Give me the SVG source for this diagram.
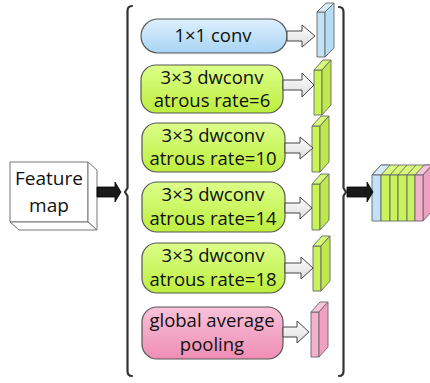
<svg xmlns="http://www.w3.org/2000/svg" width="430" height="383" viewBox="0 0 430 383">
<style>
text{font-family:"Open Sans","Noto Sans","DejaVu Sans",sans-serif;font-size:18.5px;fill:#111;text-anchor:middle}
.pill{stroke:#555;stroke-width:1.2}
.harrow{fill:url(#gw);stroke:#444;stroke-width:1}
.barrow{fill:#1a1a1a;stroke:#000;stroke-width:0.8}
.blk{stroke:#666;stroke-width:0.9;stroke-linejoin:round}
.brk{fill:none;stroke:#333;stroke-width:2.2;stroke-linecap:round;stroke-linejoin:round}
</style>
<defs>
<linearGradient id="gb" x1="0" y1="0" x2="0" y2="1"><stop offset="0" stop-color="#def0ff"/><stop offset="1" stop-color="#a8d4f4"/></linearGradient>
<linearGradient id="gg" x1="0" y1="0" x2="0" y2="1"><stop offset="0" stop-color="#dcff8a"/><stop offset="1" stop-color="#bdee3e"/></linearGradient>
<linearGradient id="gp" x1="0" y1="0" x2="0" y2="1"><stop offset="0" stop-color="#f8c2d9"/><stop offset="1" stop-color="#ef8db4"/></linearGradient>
<linearGradient id="gw" x1="0" y1="0" x2="0" y2="1"><stop offset="0" stop-color="#ffffff"/><stop offset="1" stop-color="#dcdcdc"/></linearGradient>
</defs>

<g id="feature-map">
<polygon points="10,162 88,162 88,222 10,222" fill="#fff" stroke="#777" stroke-width="1"/>
<polygon points="88,162 97,170 97,230 88,222" fill="#fff" stroke="#777" stroke-width="1"/>
<polygon points="10,222 88,222 97,230 19,230" fill="#fff" stroke="#777" stroke-width="1"/>
<text x="49" y="185" style="font-size:19px">Feature</text>
<text x="49" y="212" style="font-size:19px">map</text>
</g>

<g id="brackets">
<path class="brk" d="M132,6 Q127.5,6 127.5,11 L127.5,188 L125,192 L127.5,196 L127.5,371 Q127.5,376 132,376"/>
<path class="brk" d="M339,7 Q343.5,7 343.5,12 L343.5,188 L346,192 L343.5,196 L343.5,371 Q343.5,376 339,376"/>
</g>

<g id="conv1x1">
<rect class="pill" x="141" y="19" width="146" height="34" rx="17" fill="url(#gb)"/>
<text x="213" y="42">1×1 conv</text>
</g>
<g id="dw6">
<rect class="pill" x="141" y="65" width="142" height="48" rx="15" fill="url(#gg)"/>
<text x="212" y="84">3×3 dwconv</text>
<text x="212" y="107">atrous rate=6</text>
</g>
<g id="dw10">
<rect class="pill" x="142" y="123" width="143" height="49" rx="15" fill="url(#gg)"/>
<text x="213" y="142">3×3 dwconv</text>
<text x="213" y="165">atrous rate=10</text>
</g>
<g id="dw14">
<rect class="pill" x="142" y="182" width="143" height="50" rx="15" fill="url(#gg)"/>
<text x="213" y="201">3×3 dwconv</text>
<text x="213" y="225">atrous rate=14</text>
</g>
<g id="dw18">
<rect class="pill" x="142" y="243" width="143" height="50" rx="15" fill="url(#gg)"/>
<text x="213" y="262">3×3 dwconv</text>
<text x="213" y="286">atrous rate=18</text>
</g>
<g id="pool">
<rect class="pill" x="142" y="307" width="141" height="52" rx="15" fill="url(#gp)"/>
<text x="212" y="327">global average</text>
<text x="212" y="351">pooling</text>
</g>

<g id="feat-blue">
<polygon class="blk" points="317,12 325,12 325,57 317,57" fill="#c2e2f8"/>
<polygon class="blk" points="317,12 326,3 334,3 325,12" fill="#d4ecfb"/>
<polygon class="blk" points="325,12 334,3 334,48 325,57" fill="#b6dbf4"/>
</g>
<g id="feat-g6">
<polygon class="blk" points="314,70 322,70 322,115 314,115" fill="#c9f35a"/>
<polygon class="blk" points="314,70 323,60 331,60 322,70" fill="#d8fa7a"/>
<polygon class="blk" points="322,70 331,60 331,105 322,115" fill="#bfe84c"/>
</g>
<g id="feat-g10">
<polygon class="blk" points="312,126 320,126 320,172 312,172" fill="#c9f35a"/>
<polygon class="blk" points="312,126 321,116 329,116 320,126" fill="#d8fa7a"/>
<polygon class="blk" points="320,126 329,116 329,162 320,172" fill="#bfe84c"/>
</g>
<g id="feat-g14">
<polygon class="blk" points="312,184 320,184 320,230 312,230" fill="#c9f35a"/>
<polygon class="blk" points="312,184 321,174 329,174 320,184" fill="#d8fa7a"/>
<polygon class="blk" points="320,184 329,174 329,220 320,230" fill="#bfe84c"/>
</g>
<g id="feat-g18">
<polygon class="blk" points="313,246 321,246 321,291 313,291" fill="#c9f35a"/>
<polygon class="blk" points="313,246 322,236 330,236 321,246" fill="#d8fa7a"/>
<polygon class="blk" points="321,246 330,236 330,281 321,291" fill="#bfe84c"/>
</g>
<g id="feat-pink">
<polygon class="blk" points="311,312 319,312 319,357 311,357" fill="#f5b0cc"/>
<polygon class="blk" points="311,312 320,302 328,302 319,312" fill="#f8c4da"/>
<polygon class="blk" points="319,312 328,302 328,347 319,357" fill="#f0a0c0"/>
</g>

<g id="concat">
<polygon class="blk" points="372,175 381,165 432,165 423,175" fill="#d8fa7a"/>
<polygon class="blk" points="372,175 381,165 390,165 381,175" fill="#d4ecfb"/>
<polygon class="blk" points="415,175 424,165 432,165 423,175" fill="#f8c4da"/>
<line class="blk" x1="390" y1="175" x2="399" y2="165"/>
<line class="blk" x1="398" y1="175" x2="407" y2="165"/>
<line class="blk" x1="407" y1="175" x2="416" y2="165"/>
<polygon class="blk" points="423,175 432,165 432,211 423,221" fill="#f0a0c0"/>
<rect class="blk" x="372" y="175" width="9" height="46" fill="#c2e2f8"/>
<rect class="blk" x="381" y="175" width="9" height="46" fill="#c9f35a"/>
<rect class="blk" x="390" y="175" width="8" height="46" fill="#c9f35a"/>
<rect class="blk" x="398" y="175" width="9" height="46" fill="#c9f35a"/>
<rect class="blk" x="407" y="175" width="8" height="46" fill="#c9f35a"/>
<rect class="blk" x="415" y="175" width="8" height="46" fill="#f5b0cc"/>
</g>

<g id="connectors">
<polygon class="barrow" points="97,187 115,187 115,182 121,192 115,202 115,197 97,197"/>
<polygon class="barrow" points="347,187 367,187 367,182 373,192 367,202 367,197 347,197"/>
<polygon class="harrow" points="287,31 302,31 302,25 315,36 302,47 302,41 287,41"/>
<polygon class="harrow" points="283,80 302,80 302,73 314,85 302,97 302,90 283,90"/>
<polygon class="harrow" points="285,143 300,143 300,137 313,148 300,159 300,153 285,153"/>
<polygon class="harrow" points="285,203 300,203 300,197 312,208 300,219 300,213 285,213"/>
<polygon class="harrow" points="285,263 301,263 301,257 313,268 301,279 301,273 285,273"/>
<polygon class="harrow" points="283,327 297,327 297,321 309,332 297,343 297,337 283,337"/>
</g>
</svg>
